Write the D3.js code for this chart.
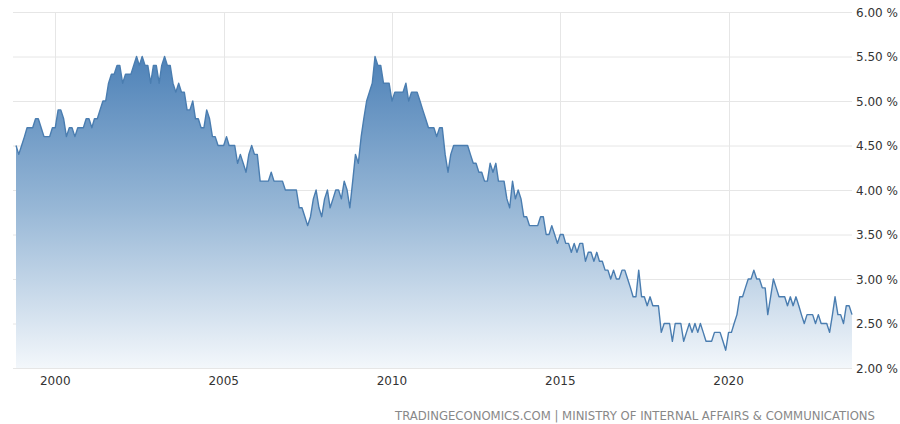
<!DOCTYPE html>
<html>
<head>
<meta charset="utf-8">
<script src="https://cdn.jsdelivr.net/npm/d3@7"></script>
<style>
  body { margin: 0; background: #fff; }
</style>
</head>
<body>
<script>
// Japan unemployment rate, monthly, Nov 1998 - Sep 2023
var firstMonth = new Date(1998, 10, 1);

var rates = [
    4.5, 4.4,                                                   // 1998
    4.5, 4.6, 4.7, 4.7, 4.7, 4.8, 4.8, 4.7, 4.6, 4.6, 4.6, 4.7, // 1999
    4.7, 4.9, 4.9, 4.8, 4.6, 4.7, 4.7, 4.6, 4.7, 4.7, 4.7, 4.8, // 2000
    4.8, 4.7, 4.8, 4.8, 4.9, 5.0, 5.0, 5.2, 5.3, 5.3, 5.4, 5.4, // 2001
    5.2, 5.3, 5.3, 5.3, 5.4, 5.5, 5.4, 5.5, 5.4, 5.4, 5.2, 5.4, // 2002
    5.4, 5.2, 5.4, 5.5, 5.4, 5.4, 5.2, 5.1, 5.2, 5.1, 5.1, 4.9, // 2003
    4.9, 5.0, 4.8, 4.8, 4.7, 4.7, 4.9, 4.8, 4.6, 4.6, 4.5, 4.5, // 2004
    4.5, 4.6, 4.5, 4.5, 4.5, 4.3, 4.4, 4.3, 4.2, 4.4, 4.5, 4.4, // 2005
    4.4, 4.1, 4.1, 4.1, 4.1, 4.2, 4.1, 4.1, 4.1, 4.1, 4.0, 4.0, // 2006
    4.0, 4.0, 4.0, 3.8, 3.8, 3.7, 3.6, 3.7, 3.9, 4.0, 3.8, 3.7, // 2007
    3.9, 4.0, 3.8, 3.9, 4.0, 4.0, 3.9, 4.1, 4.0, 3.8, 4.1, 4.4, // 2008
    4.3, 4.6, 4.8, 5.0, 5.1, 5.2, 5.5, 5.4, 5.4, 5.2, 5.2, 5.2, // 2009
    5.0, 5.1, 5.1, 5.1, 5.1, 5.2, 5.0, 5.1, 5.1, 5.1, 5.0, 4.9, // 2010
    4.8, 4.7, 4.7, 4.7, 4.6, 4.7, 4.7, 4.4, 4.2, 4.4, 4.5, 4.5, // 2011
    4.5, 4.5, 4.5, 4.5, 4.4, 4.3, 4.3, 4.2, 4.2, 4.1, 4.1, 4.3, // 2012
    4.2, 4.3, 4.1, 4.1, 4.1, 3.9, 3.8, 4.1, 3.9, 4.0, 3.9, 3.7, // 2013
    3.7, 3.6, 3.6, 3.6, 3.6, 3.7, 3.7, 3.5, 3.5, 3.6, 3.5, 3.4, // 2014
    3.5, 3.5, 3.4, 3.4, 3.3, 3.4, 3.3, 3.4, 3.4, 3.2, 3.3, 3.3, // 2015
    3.2, 3.3, 3.2, 3.2, 3.1, 3.1, 3.0, 3.1, 3.0, 3.0, 3.1, 3.1, // 2016
    3.0, 2.9, 2.8, 2.8, 3.1, 2.8, 2.8, 2.7, 2.8, 2.7, 2.7, 2.7, // 2017
    2.4, 2.5, 2.5, 2.5, 2.3, 2.5, 2.5, 2.5, 2.3, 2.4, 2.5, 2.4, // 2018
    2.5, 2.4, 2.5, 2.4, 2.3, 2.3, 2.3, 2.4, 2.4, 2.4, 2.3, 2.2, // 2019
    2.4, 2.4, 2.5, 2.6, 2.8, 2.8, 2.9, 3.0, 3.0, 3.1, 3.0, 3.0, // 2020
    2.9, 2.9, 2.6, 2.8, 3.0, 2.9, 2.8, 2.8, 2.8, 2.7, 2.8, 2.7, // 2021
    2.8, 2.7, 2.6, 2.5, 2.6, 2.6, 2.6, 2.5, 2.6, 2.5, 2.5, 2.5, // 2022
    2.4, 2.6, 2.8, 2.6, 2.6, 2.5, 2.7, 2.7, 2.6                 // 2023
];

var xTicks = [2000, 2005, 2010, 2015, 2020];
var yTicks = [2.0, 2.5, 3.0, 3.5, 4.0, 4.5, 5.0, 5.5, 6.0];
var source = "TRADINGECONOMICS.COM | MINISTRY OF INTERNAL AFFAIRS & COMMUNICATIONS";

var outerWidth = 900,
    outerHeight = 424,
    gridLeft = 13,
    gridRight = 852,
    plotTop = 12,
    plotBottom = 368;

var data = rates.map(function(v, i) {
    return { date: d3.timeMonth.offset(firstMonth, i), value: v };
});

var x = d3.scaleTime()
    .domain([firstMonth, data[data.length - 1].date])
    .range([16, 852]);

var y = d3.scaleLinear()
    .domain([2, 6])
    .range([plotBottom, plotTop]);

var svg = d3.select("body")
    .append("svg")
    .attr("width", outerWidth)
    .attr("height", outerHeight)
    .style("font-family", "'DejaVu Sans', Verdana, sans-serif");

// gradient for the area
var grad = svg.append("defs").append("linearGradient")
    .attr("id", "fillGrad")
    .attr("gradientUnits", "userSpaceOnUse")
    .attr("x1", 0).attr("x2", 0)
    .attr("y1", y(5.6)).attr("y2", plotBottom);
grad.append("stop").attr("offset", "0%").attr("stop-color", "#4a7fb6");
grad.append("stop").attr("offset", "50%").attr("stop-color", "#97b7d6");
grad.append("stop").attr("offset", "100%").attr("stop-color", "#f3f7fb");

// horizontal grid
svg.append("g")
    .selectAll("line")
    .data(yTicks)
    .enter().append("line")
    .attr("x1", gridLeft)
    .attr("x2", gridRight)
    .attr("y1", function(d) { return y(d) + 0.5; })
    .attr("y2", function(d) { return y(d) + 0.5; })
    .style("stroke", "#e6e6e6")
    .style("stroke-width", 1);

// vertical grid
svg.append("g")
    .selectAll("line")
    .data(xTicks)
    .enter().append("line")
    .attr("x1", function(d) { return Math.round(x(new Date(d, 0, 1))) + 0.5; })
    .attr("x2", function(d) { return Math.round(x(new Date(d, 0, 1))) + 0.5; })
    .attr("y1", plotTop)
    .attr("y2", plotBottom)
    .style("stroke", "#e6e6e6")
    .style("stroke-width", 1);

var area = d3.area()
    .x(function(d) { return x(d.date); })
    .y0(plotBottom)
    .y1(function(d) { return y(d.value); });

var line = d3.line()
    .x(function(d) { return x(d.date); })
    .y(function(d) { return y(d.value); });

svg.append("path")
    .datum(data)
    .attr("d", area)
    .style("fill", "url(#fillGrad)");

svg.append("path")
    .datum(data)
    .attr("d", line)
    .style("fill", "none")
    .style("stroke", "#4a7db0")
    .style("stroke-width", 1.4)
    .style("stroke-linejoin", "round");

// y labels on the right
svg.append("g")
    .selectAll("text")
    .data(yTicks)
    .enter().append("text")
    .attr("x", 856)
    .attr("y", function(d) { return y(d) + 4.5; })
    .attr("font-size", "12px")
    .style("fill", "#333")
    .text(function(d) { return d3.format(".2f")(d) + " %"; });

// x labels
svg.append("g")
    .selectAll("text")
    .data(xTicks)
    .enter().append("text")
    .attr("x", function(d) { return x(new Date(d, 0, 1)); })
    .attr("y", 385)
    .attr("text-anchor", "middle")
    .attr("font-size", "12px")
    .style("fill", "#333")
    .text(function(d) { return d; });

// source line
svg.append("text")
    .attr("x", 875)
    .attr("y", 420)
    .attr("text-anchor", "end")
    .attr("font-size", "11.5px")
    .attr("textLength", 480)
    .attr("lengthAdjust", "spacingAndGlyphs")
    .style("fill", "#888")
    .text(source);
</script>
</body>
</html>
